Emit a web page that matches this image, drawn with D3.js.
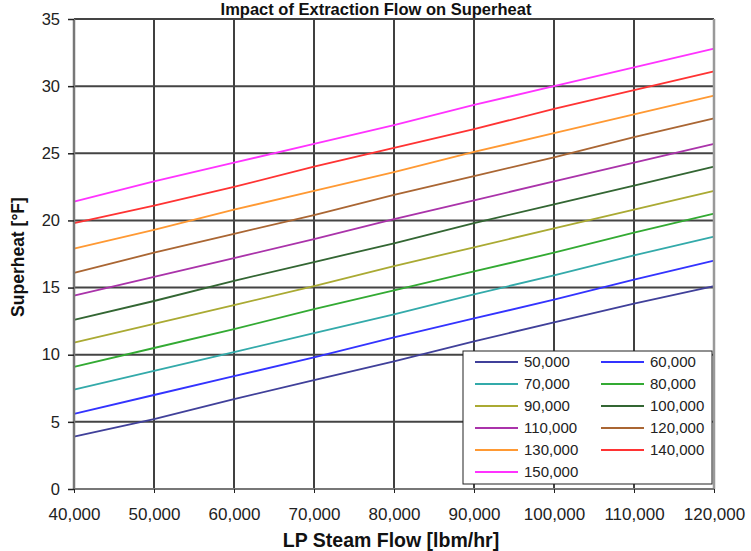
<!DOCTYPE html>
<html>
<head>
<meta charset="utf-8">
<script src="https://cdn.jsdelivr.net/npm/d3@7"></script>
<style>
  html, body { margin: 0; padding: 0; background: #fff; }
  svg { display: block; font-family: "Liberation Sans", Arial, sans-serif; }
</style>
</head>
<body>
<svg id="chart" width="751" height="551"></svg>
<script>
// ---- data ----
const steamFlow = [40000, 50000, 60000, 70000, 80000, 90000, 100000, 110000, 120000];
const extractionFlows = ["50,000", "60,000", "70,000", "80,000", "90,000", "100,000", "110,000", "120,000", "130,000", "140,000", "150,000"];
const s50k  = [3.9, 5.2, 6.7, 8.1, 9.5, 11.0, 12.4, 13.8, 15.1];
const s60k  = [5.6, 7.0, 8.4, 9.8, 11.3, 12.7, 14.1, 15.6, 17.0];
const s70k  = [7.4, 8.8, 10.2, 11.6, 13.0, 14.5, 15.9, 17.4, 18.8];
const s80k  = [9.1, 10.5, 11.9, 13.4, 14.8, 16.2, 17.6, 19.1, 20.5];
const s90k  = [10.9, 12.3, 13.7, 15.1, 16.6, 18.0, 19.4, 20.8, 22.2];
const s100k = [12.6, 14.0, 15.5, 16.9, 18.3, 19.8, 21.2, 22.6, 24.0];
const s110k = [14.4, 15.8, 17.2, 18.6, 20.1, 21.5, 22.9, 24.3, 25.7];
const s120k = [16.1, 17.6, 19.0, 20.4, 21.9, 23.3, 24.7, 26.2, 27.6];
const s130k = [17.9, 19.3, 20.8, 22.2, 23.6, 25.1, 26.5, 27.9, 29.3];
const s140k = [19.8, 21.1, 22.5, 24.0, 25.4, 26.8, 28.3, 29.7, 31.1];
const s150k = [21.4, 22.9, 24.3, 25.7, 27.1, 28.6, 30.0, 31.4, 32.8];
const seriesValues = [s50k, s60k, s70k, s80k, s90k, s100k, s110k, s120k, s130k, s140k, s150k];
const seriesColors = ["#40409a", "#3333ff", "#33aaaa", "#33aa33", "#aaaa33", "#336633", "#aa33aa", "#aa6633", "#ff9933", "#ff3333", "#ff33ff"];
const xTicks = [40000, 50000, 60000, 70000, 80000, 90000, 100000, 110000, 120000];
const yTicks = [0, 5, 10, 15, 20, 25, 30, 35];

// ---- layout ----
const svg = d3.select("#chart");
const L = 74, R = 714, T = 19, B = 489;
const x = d3.scaleLinear().domain([40000, 120000]).range([L, R]);
const y = d3.scaleLinear().domain([0, 35]).range([B, T]);
const fmt = d3.format(",");

// gridlines
svg.append("g").selectAll("line").data(xTicks).join("line")
  .attr("x1", d => x(d)).attr("x2", d => x(d)).attr("y1", T).attr("y2", B)
  .attr("stroke", "#000").attr("stroke-width", 1.5);
svg.append("g").selectAll("line").data(yTicks).join("line")
  .attr("x1", L).attr("x2", R).attr("y1", d => y(d)).attr("y2", d => y(d))
  .attr("stroke", "#444").attr("stroke-width", 2);

// lines
const line = d3.line().x((d, i) => x(steamFlow[i])).y(d => y(d));
svg.append("g").selectAll("path").data(seriesValues).join("path")
  .attr("d", d => line(d)).attr("fill", "none")
  .attr("stroke", (d, i) => seriesColors[i]).attr("stroke-width", 1.8);

// plot border (left / right / bottom gray)
svg.append("line").attr("x1", L).attr("x2", L).attr("y1", T).attr("y2", B).attr("stroke", "#777").attr("stroke-width", 2.5);
svg.append("line").attr("x1", R).attr("x2", R).attr("y1", T).attr("y2", B).attr("stroke", "#999").attr("stroke-width", 2.5);
svg.append("line").attr("x1", L).attr("x2", R).attr("y1", B).attr("y2", B).attr("stroke", "#777").attr("stroke-width", 2);

// axes
const yAxis = svg.append("g").attr("transform", `translate(${L},0)`)
  .call(d3.axisLeft(y).tickValues(yTicks).tickSize(6).tickPadding(8));
yAxis.select(".domain").remove();
yAxis.selectAll("line").attr("stroke", "#222").attr("stroke-width", 1.5);
yAxis.selectAll("text").attr("font-size", 16.5).attr("fill", "#222").attr("font-family", "Liberation Sans, Arial, sans-serif");

const xAxis = svg.append("g").attr("transform", `translate(0,${B})`)
  .call(d3.axisBottom(x).tickValues(xTicks).tickFormat(fmt).tickSize(4).tickPadding(15));
xAxis.select(".domain").remove();
xAxis.selectAll("line").attr("stroke", "#222");
xAxis.selectAll("text").attr("font-size", 17).attr("fill", "#222").attr("font-family", "Liberation Sans, Arial, sans-serif");

// titles
svg.append("text").attr("x", 376).attr("y", 15).attr("text-anchor", "middle")
  .attr("font-size", 16.5).attr("font-weight", "bold").attr("fill", "#111")
  .text("Impact of Extraction Flow on Superheat");
svg.append("text").attr("x", 391).attr("y", 547).attr("text-anchor", "middle")
  .attr("font-size", 19.5).attr("font-weight", "bold").attr("fill", "#111")
  .text("LP Steam Flow [lbm/hr]");
svg.append("text").attr("transform", "translate(24,257) rotate(-90)").attr("text-anchor", "middle")
  .attr("font-size", 17.5).attr("font-weight", "bold").attr("fill", "#111")
  .text("Superheat [°F]");

// legend
const lg = svg.append("g");
lg.append("rect").attr("x", 463).attr("y", 351).attr("width", 249).attr("height", 133)
  .attr("fill", "#fff").attr("stroke", "#222").attr("stroke-width", 1);
const items = lg.selectAll("g.item").data(extractionFlows).join("g").attr("class", "item")
  .attr("transform", (d, i) => `translate(${i % 2 === 0 ? 475 : 601},${362 + Math.floor(i / 2) * 22})`);
items.append("line").attr("x1", 0).attr("x2", 43).attr("y1", 0).attr("y2", 0)
  .attr("stroke", (d, i) => seriesColors[i]).attr("stroke-width", 2);
items.append("text").attr("x", 49).attr("y", 5).attr("font-size", 15).attr("fill", "#222")
  .text(d => d);
</script>
</body>
</html>
